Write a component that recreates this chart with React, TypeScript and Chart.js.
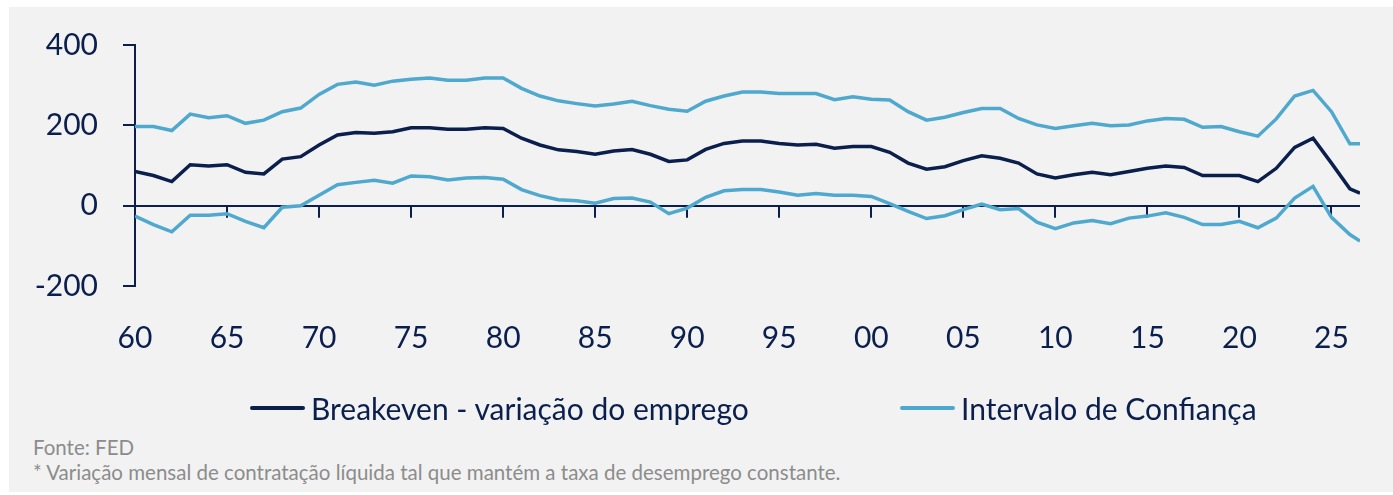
import React, { useEffect, useRef } from "react";
import { Chart, registerables } from "chart.js";

Chart.register(...registerables);

// ---- Data ----
const years = [
  1960, 1961, 1962, 1963, 1964, 1965, 1966, 1967, 1968, 1969,
  1970, 1971, 1972, 1973, 1974, 1975, 1976, 1977, 1978, 1979,
  1980, 1981, 1982, 1983, 1984, 1985, 1986, 1987, 1988, 1989,
  1990, 1991, 1992, 1993, 1994, 1995, 1996, 1997, 1998, 1999,
  2000, 2001, 2002, 2003, 2004, 2005, 2006, 2007, 2008, 2009,
  2010, 2011, 2012, 2013, 2014, 2015, 2016, 2017, 2018, 2019,
  2020, 2021, 2022, 2023, 2024, 2025, 2026, 2026.55,
];

const breakeven = [
  85, 75, 60, 102, 99, 102, 83, 79, 116, 122,
  151, 176, 182, 180, 184, 194, 194, 190, 190, 194,
  192, 168, 151, 139, 135, 128, 136, 140, 128, 110,
  114, 140, 155, 161, 161, 155, 151, 153, 143, 147,
  147, 133, 106, 91, 97, 112, 124, 118, 106, 79,
  69, 77, 83, 77, 85, 93, 99, 95, 75, 75,
  75, 60, 93, 145, 168, 106, 42, 31,
];

const upperBand = [
  197, 197, 187, 228, 219, 224, 205, 213, 234, 243,
  277, 302, 308, 300, 310, 315, 318, 312, 312, 318,
  318, 292, 273, 261, 254, 248, 253, 260, 249, 240,
  235, 260, 273, 283, 283, 279, 279, 279, 264, 271,
  265, 263, 234, 213, 220, 232, 242, 242, 217, 201,
  192, 199, 205, 199, 201, 211, 217, 215, 195, 197,
  184, 173, 216, 273, 287, 234, 154, 154,
];

const lowerBand = [
  -26, -47, -65, -24, -24, -20, -39, -55, -4, 0,
  26, 52, 58, 63, 56, 74, 72, 64, 69, 70,
  66, 40, 25, 15, 12, 6, 18, 19, 9, -20,
  -6, 21, 37, 40, 40, 34, 26, 30, 26, 26,
  23, 5, -14, -32, -25, -10, 4, -10, -7, -41,
  -57, -43, -37, -45, -31, -26, -18, -29, -47, -47,
  -39, -55, -31, 19, 48, -29, -72, -88,
];

const xTickYears = [1960, 1965, 1970, 1975, 1980, 1985, 1990, 1995, 2000, 2005, 2010, 2015, 2020, 2025];
const xTickLabels = ["60", "65", "70", "75", "80", "85", "90", "95", "00", "05", "10", "15", "20", "25"];
const yTicks = [-200, 0, 200, 400];

const seriesLabels = ["Breakeven - variação do emprego", "Intervalo de Confiança"];
const footnotes = [
  "Fonte: FED",
  "* Variação mensal de contratação líquida tal que mantém a taxa de desemprego constante.",
];

// ---- Styles ----
const NAVY = "#0b1f4d";
const BLUE = "#4fa8cd";
const BG = "#f2f2f2";
const GRAY = "#8c8c8c";
const FONT = "Lato, 'Noto Sans', sans-serif";

const legendItems = [
  { label: seriesLabels[0], color: NAVY, left: 241 },
  { label: seriesLabels[1], color: BLUE, left: 891 },
];

const zeroTicks = {
  id: "zeroTicks",
  beforeDatasetsDraw(chart: any) {
    const xs = chart.scales.x;
    const ys = chart.scales.y;
    const y0 = ys.getPixelForValue(0);
    const ctx = chart.ctx;
    ctx.save();
    ctx.strokeStyle = NAVY;
    ctx.lineWidth = 2;
    ctx.beginPath();
    xTickYears.forEach((v) => {
      const px = Math.round(xs.getPixelForValue(v));
      ctx.moveTo(px, y0);
      ctx.lineTo(px, y0 + 12);
    });
    ctx.stroke();
    ctx.restore();
  },
};

export default function App() {
  const canvasRef = useRef<HTMLCanvasElement | null>(null);

  useEffect(() => {
    const canvas = canvasRef.current;
    if (!canvas) return;
    const toXY = (vals: number[]) => vals.map((v, i) => ({ x: years[i], y: v }));
    const chart = new Chart(canvas, {
      type: "line",
      data: {
        datasets: [
          {
            label: seriesLabels[0],
            data: toXY(breakeven),
            borderColor: NAVY,
            backgroundColor: NAVY,
            borderWidth: 3.5,
            pointRadius: 0,
            tension: 0,
          },
          {
            label: seriesLabels[1],
            data: toXY(upperBand),
            borderColor: BLUE,
            backgroundColor: BLUE,
            borderWidth: 3.5,
            pointRadius: 0,
            tension: 0,
          },
          {
            label: seriesLabels[1],
            data: toXY(lowerBand),
            borderColor: BLUE,
            backgroundColor: BLUE,
            borderWidth: 3.5,
            pointRadius: 0,
            tension: 0,
          },
        ],
      },
      options: {
        responsive: false,
        animation: false,
        layout: { padding: { top: 38, right: 33, bottom: 11, left: 0 } },
        plugins: {
          legend: { display: false },
          tooltip: { enabled: false },
        },
        scales: {
          x: {
            type: "linear",
            min: 1960,
            max: 2026.55,
            afterBuildTicks: (s: any) => {
              s.ticks = xTickYears.map((v) => ({ value: v }));
            },
            afterFit: (s: any) => {
              s.paddingLeft = 0;
              s.paddingRight = 0;
            },
            border: { display: false },
            grid: { display: false, drawTicks: false },
            ticks: {
              color: NAVY,
              font: { family: FONT, size: 30 },
              padding: 34,
              maxRotation: 0,
              autoSkip: false,
              callback: (_v: any, i: number) => xTickLabels[i],
            },
          },
          y: {
            min: -200,
            max: 400,
            afterBuildTicks: (s: any) => {
              s.ticks = yTicks.map((v) => ({ value: v }));
            },
            afterFit: (s: any) => {
              s.width = 126;
              s.paddingTop = 0;
              s.paddingBottom = 0;
            },
            border: { display: true, color: NAVY, width: 2 },
            grid: {
              drawOnChartArea: true,
              drawTicks: true,
              tickLength: 12,
              lineWidth: 2,
              tickColor: NAVY,
              color: (c: any) => (c.tick && c.tick.value === 0 ? NAVY : "rgba(0,0,0,0)"),
            },
            ticks: {
              color: NAVY,
              font: { family: FONT, size: 30 },
              padding: 25,
            },
          },
        },
      },
      plugins: [zeroTicks],
    } as any);
    return () => chart.destroy();
  }, []);

  return (
    <div
      style={{
        position: "absolute",
        left: 9,
        top: 7,
        width: 1384,
        height: 485,
        background: BG,
        fontFamily: FONT,
        overflow: "hidden",
      }}
    >
      <canvas ref={canvasRef} width={1384} height={394} style={{ display: "block" }} />
      {legendItems.map((it) => (
        <div
          key={it.label}
          style={{
            position: "absolute",
            left: it.left,
            top: 383,
            height: 36,
            display: "flex",
            alignItems: "center",
            whiteSpace: "nowrap",
          }}
        >
          <span
            style={{
              display: "inline-block",
              width: 55,
              height: 4,
              borderRadius: 2,
              background: it.color,
              marginRight: 6,
            }}
          />
          <span style={{ fontSize: 30, lineHeight: "36px", color: NAVY }}>{it.label}</span>
        </div>
      ))}
      {footnotes.map((t, i) => (
        <div
          key={i}
          style={{
            position: "absolute",
            left: 24,
            top: 430 + i * 25,
            fontSize: 20.5,
            lineHeight: "20px",
            color: GRAY,
            whiteSpace: "nowrap",
          }}
        >
          {t}
        </div>
      ))}
    </div>
  );
}
